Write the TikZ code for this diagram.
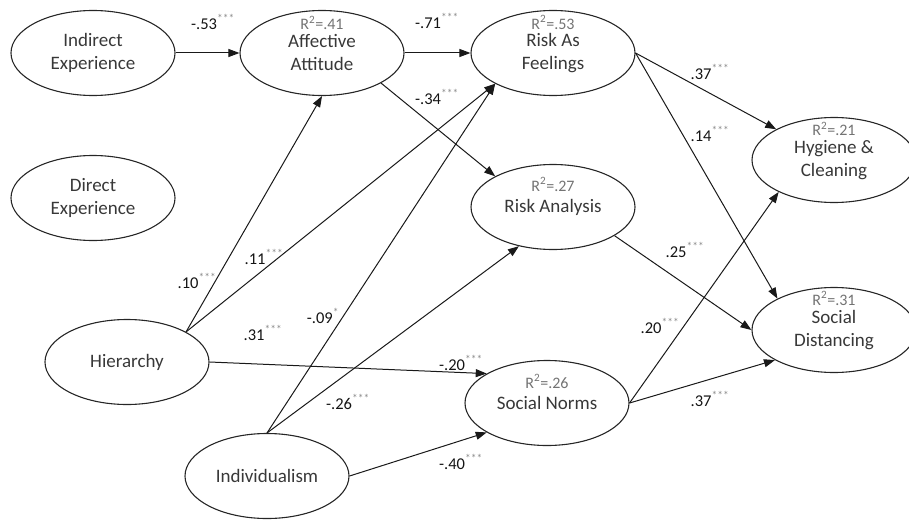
\documentclass[tikz,border=0pt]{standalone}
\usepackage{fontspec}
\setmainfont{Carlito}
\usetikzlibrary{arrows.meta,shapes.geometric}

\tikzset{
  latent/.style={draw=black!85, line width=1.1pt, ellipse, minimum width=164pt,
    minimum height=85pt, inner sep=0pt, align=center, text=black!78,
    font=\fontsize{19}{23}\selectfont},
  rsq/.style={anchor=north, inner sep=0pt, text=black!55,
    font=\fontsize{16}{18}\selectfont},
  effect/.style={draw=black!90, line width=1pt, -{Triangle[length=11pt,width=8pt]}},
  coef/.style={inner sep=0pt, text=black!92, font=\fontsize{16.5}{18}\selectfont}
}
\newcommand{\sig}[1]{\textsuperscript{\textcolor{black!45}{#1}}}

\begin{document}
\begin{tikzpicture}[x=1pt,y=1pt]
  \useasboundingbox (0,0) rectangle (909,-519);
  % latent variables
  \node[latent] (ie) at (93,-53) {Indirect\\Experience};
  \node[latent] (de) at (93,-198) {Direct\\Experience};
  \node[latent] (hi) at (127,-362) {Hierarchy};
  \node[latent] (in) at (267,-476) {Individualism};
  \node[latent, label={[rsq,yshift=-6pt]north:R\textsuperscript{2}=.41}] (aa) at (322,-53) {Affective\\Attitude};
  \node[latent, label={[rsq,yshift=-5.5pt]north:R\textsuperscript{2}=.53}] (raf) at (553,-53) {Risk As\\Feelings};
  \node[latent, label={[rsq,yshift=-13.5pt]north:R\textsuperscript{2}=.27}] (ra) at (553,-207) {Risk Analysis};
  \node[latent, label={[rsq,yshift=-14.5pt]north:R\textsuperscript{2}=.26}] (sn) at (547,-403) {Social Norms};
  \node[latent, label={[rsq,yshift=-5pt]north:R\textsuperscript{2}=.21}] (hc) at (834,-160) {Hygiene \&\\Cleaning};
  \node[latent, label={[rsq,yshift=-4.5pt]north:R\textsuperscript{2}=.31}] (sd) at (834,-330) {Social\\Distancing};

  % paths
  \draw[effect] (ie) -- (aa);
  \draw[effect] (aa) -- (raf);
  \draw[effect] (aa.-27) -- (ra.152);
  \draw[effect] (hi.27) -- (aa.south);
  \draw[effect] (hi.27) -- (raf.208);
  \draw[effect] (hi.east) -- (sn.154);
  \draw[effect] (in.north) -- (raf.208);
  \draw[effect] (in.north) -- (ra.-131);
  \draw[effect] (in.east) -- (sn.206);
  \draw[effect] (raf.east) -- (hc.152);
  \draw[effect] (raf.east) -- (sd.151);
  \draw[effect] (ra.-25) -- (sd.west);
  \draw[effect] (sn.east) -- (hc.210);
  \draw[effect] (sn.east) -- (sd.207);

  % coefficients
  \node[coef] (c-ie-aa) at (213,-22) {-.53\sig{***}};
  \node[coef] (c-aa-raf) at (437,-21) {-.71\sig{***}};
  \node[coef] (c-aa-ra) at (437,-97) {-.34\sig{***}};
  \node[coef] (c-hi-aa) at (197,-281) {.10\sig{***}};
  \node[coef] (c-hi-raf) at (264,-257) {.11\sig{***}};
  \node[coef] (c-hi-x) at (263,-333) {.31\sig{***}};
  \node[coef] (c-in-raf) at (323,-316) {-.09\sig{*}};
  \node[coef] (c-in-ra) at (348,-402) {-.26\sig{***}};
  \node[coef] (c-hi-sn) at (461,-363) {-.20\sig{***}};
  \node[coef] (c-in-sn) at (461,-462) {-.40\sig{***}};
  \node[coef] (c-raf-hc) at (710,-72) {.37\sig{***}};
  \node[coef] (c-raf-sd) at (710,-134) {.14\sig{***}};
  \node[coef] (c-ra-sd) at (685,-250) {.25\sig{***}};
  \node[coef] (c-sn-hc) at (660,-326) {.20\sig{***}};
  \node[coef] (c-sn-sd) at (710,-399) {.37\sig{***}};
\end{tikzpicture}
\end{document}
